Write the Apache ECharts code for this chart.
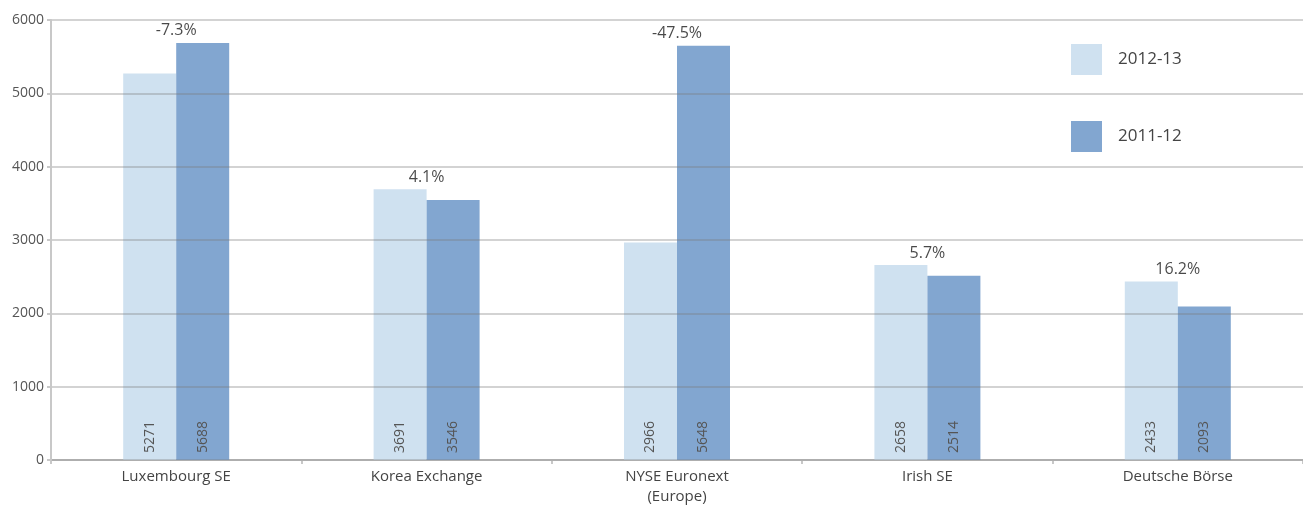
<!DOCTYPE html>
<html>
<head>
<meta charset="utf-8">
<script src="https://cdn.jsdelivr.net/npm/echarts@6/dist/echarts.min.js"></script>
<style>html,body{margin:0;padding:0;background:#fff}#c{width:1303px;height:507px}</style>
</head>
<body>
<div id="c"></div>
<script>
const categories = ["Luxembourg SE", "Korea Exchange", "NYSE Euronext\n(Europe)", "Irish SE", "Deutsche Börse"];
const values2012_13 = [5271, 3691, 2966, 2658, 2433];
const values2011_12 = [5688, 3546, 5648, 2514, 2093];
const changeLabels = ["-7.3%", "4.1%", "-47.5%", "5.7%", "16.2%"];
const yTicks = [0, 1000, 2000, 3000, 4000, 5000, 6000];

const FONT = "'Open Sans', 'Noto Sans', sans-serif";
const chart = echarts.init(document.getElementById('c'), null, {renderer: 'canvas'});
const topVals = values2012_13.map((v, i) => Math.max(v, values2011_12[i]));

const valueLabel = {
  show: true, position: 'insideBottom', rotate: 90, align: 'left', verticalAlign: 'middle',
  distance: 7, color: '#555', fontSize: 14, fontFamily: FONT
};

chart.setOption({
  animation: false,
  textStyle: {fontFamily: FONT},
  grid: {left: 51, right: -2, top: 20, bottom: 42, containLabel: false},
  legend: {
    orient: 'vertical', left: 1071, top: 44, padding: 0, itemWidth: 31, itemHeight: 31, itemGap: 46,
    icon: 'rect',
    textStyle: {fontSize: 17, color: '#444', fontFamily: FONT, padding: [3, 0, 0, 11]},
    data: ['2012-13', '2011-12']
  },
  xAxis: {
    type: 'category', data: categories,
    axisLine: {lineStyle: {color: '#c8c8c8', width: 2}},
    axisTick: {show: true, length: 4, lineStyle: {color: '#c8c8c8', width: 2}},
    axisLabel: {color: '#444', fontSize: 15, fontFamily: FONT, margin: 7, lineHeight: 20}
  },
  yAxis: {
    type: 'value', min: yTicks[0], max: yTicks[yTicks.length - 1], interval: 1000, z: 5,
    axisLine: {show: true, lineStyle: {color: '#c8c8c8', width: 2}},
    axisTick: {show: true, length: 4, lineStyle: {color: '#c8c8c8', width: 2}},
    axisLabel: {color: '#555', fontSize: 14, fontFamily: FONT, margin: 7, formatter: v => String(v)},
    splitLine: {show: true, lineStyle: {color: 'rgba(120,120,120,0.33)', width: 2}}
  },
  series: [
    {
      name: '2012-13', type: 'bar', data: values2012_13, barWidth: 53, barGap: '0%',
      itemStyle: {color: '#cfe1f0'}, label: valueLabel
    },
    {
      name: '2011-12', type: 'bar', data: values2011_12, barWidth: 53, barGap: '0%',
      itemStyle: {color: '#82a6d0'}, label: valueLabel
    },
    {
      name: 'change', type: 'scatter', data: topVals, symbolSize: 0, silent: true,
      label: {
        show: true, position: 'top', distance: 4, color: '#1a1a1a', fontSize: 16, fontFamily: FONT,
        formatter: p => changeLabels[p.dataIndex]
      }
    }
  ]
});
</script>
</body>
</html>
